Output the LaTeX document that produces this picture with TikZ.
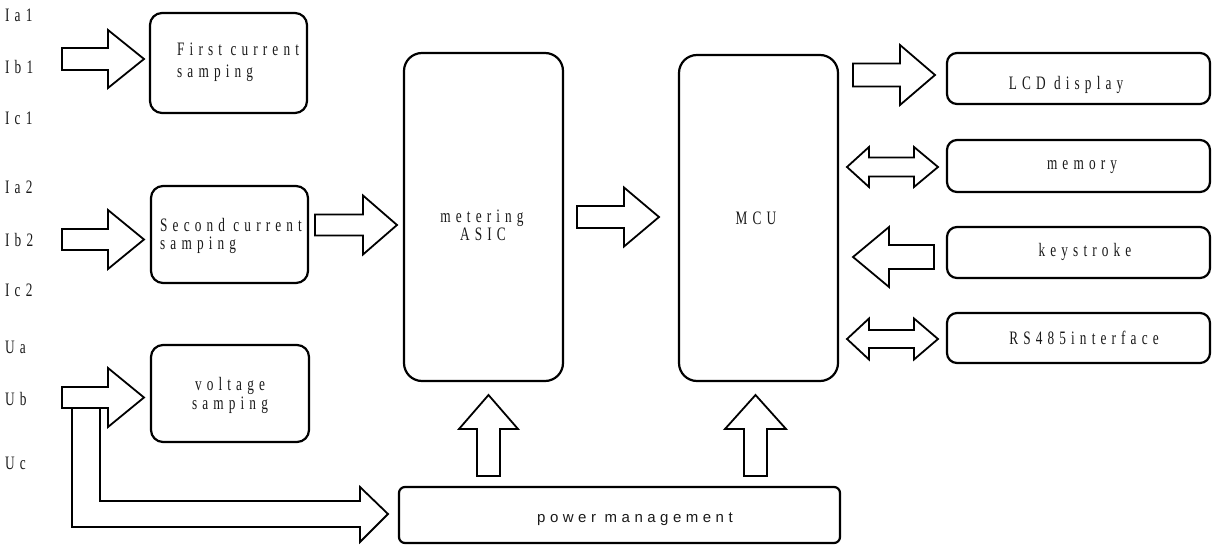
\documentclass[tikz,border=0pt]{standalone}
\usepackage{fontspec}
\newfontfamily\lab[LetterSpace=27,FakeStretch=0.7]{Liberation Serif}
\newfontfamily\psans[LetterSpace=30]{Liberation Sans}
\newcommand\myrarrow[6]{% x0, head base, tip, yc, shaft half, head half
  \draw[barrow] (#1,{#4-#5}) -- (#2,{#4-#5}) -- (#2,{#4-#6}) -- (#3,#4) -- (#2,{#4+#6}) -- (#2,{#4+#5}) -- (#1,{#4+#5}) -- cycle;}
\newcommand\mylarrow[6]{% tip, head base, x end, yc, shaft half, head half
  \draw[barrow] (#1,#4) -- (#2,{#4-#6}) -- (#2,{#4-#5}) -- (#3,{#4-#5}) -- (#3,{#4+#5}) -- (#2,{#4+#5}) -- (#2,{#4+#6}) -- cycle;}
\newcommand\mydarrow[7]{% left tip, left base, right base, right tip, yc, shaft half, head half
  \draw[barrow] (#1,#5) -- (#2,{#5-#7}) -- (#2,{#5-#6}) -- (#3,{#5-#6}) -- (#3,{#5-#7}) -- (#4,#5) -- (#3,{#5+#7}) -- (#3,{#5+#6}) -- (#2,{#5+#6}) -- (#2,{#5+#7}) -- cycle;}
\newcommand\myuarrow[6]{% xc, tip y, head base y, bottom y, shaft half, head half
  \draw[barrow] (#1,#2) -- ({#1+#6},#3) -- ({#1+#5},#3) -- ({#1+#5},#4) -- ({#1-#5},#4) -- ({#1-#5},#3) -- ({#1-#6},#3) -- cycle;}
\begin{document}
\begin{tikzpicture}[x=1pt,y=-1pt,
  box/.style={draw,line width=2.2pt,rounded corners=12pt,inner sep=0pt},
  barrow/.style={draw,line width=1.8pt,line join=miter,fill=white},
  txt/.style={font=\lab\fontsize{19}{20}\selectfont,text=black!90,inner sep=0pt},
  ptxt/.style={font=\psans\fontsize{15}{17}\selectfont,text=black!90,inner sep=0pt}]
\useasboundingbox (0,0) rectangle (1213,545);
% input labels
\node[txt,anchor=west] (ia1) at (5,15) {Ia1};
\node[txt,anchor=west] (ib1) at (5,67) {Ib1};
\node[txt,anchor=west] (ic1) at (5,118) {Ic1};
\node[txt,anchor=west] (ia2) at (5,187) {Ia2};
\node[txt,anchor=west] (ib2) at (5,240) {Ib2};
\node[txt,anchor=west] (ic2) at (5,290) {Ic2};
\node[txt,anchor=west] (ua) at (5,347) {Ua};
\node[txt,anchor=west] (ub) at (5,399) {Ub};
\node[txt,anchor=west] (uc) at (5,463) {Uc};
% boxes
\node[box,minimum width=157pt,minimum height=100pt] (fc) at (228.5,63) {};
\node[box,minimum width=157pt,minimum height=97pt] (sc) at (229.5,234.5) {};
\node[box,minimum width=158pt,minimum height=97pt] (vs) at (230,393.5) {};
\node[box,rounded corners=18pt,minimum width=159pt,minimum height=328pt] (asic) at (483.5,217) {};
\node[box,rounded corners=18pt,minimum width=159pt,minimum height=326pt] (mcu) at (758.5,218) {};
\node[box,rounded corners=6pt,minimum width=441pt,minimum height=56pt] (pm) at (619.5,515) {};
\node[box,rounded corners=10pt,minimum width=263pt,minimum height=51pt] (lcd) at (1078.5,78.5) {};
\node[box,rounded corners=10pt,minimum width=263pt,minimum height=52pt] (mem) at (1078.5,166) {};
\node[box,rounded corners=10pt,minimum width=263pt,minimum height=51pt] (key) at (1078.5,252.5) {};
\node[box,rounded corners=10pt,minimum width=263pt,minimum height=50pt] (rs) at (1078.5,338) {};
% box texts
\node[txt,anchor=base west] (fct1) at (177,56) {First current};
\node[txt,anchor=base west] (fct2) at (177,78) {samping};
\node[txt,anchor=base west] (sct1) at (160,232) {Second current};
\node[txt,anchor=base west] (sct2) at (160,250) {samping};
\node[txt,anchor=base] (vst1) at (230,390) {voltage};
\node[txt,anchor=base] (vst2) at (230,409) {samping};
\node[txt,anchor=base] (at1) at (482,223) {metering};
\node[txt,anchor=base] (at2) at (483,241) {ASIC};
\node[txt] (mcut) at (756,218) {MCU};
\node[txt] (lcdt) at (1066,85) {LCD display};
\node[txt] (memt) at (1082,167) {memory};
\node[txt] (keyt) at (1085,252) {keystroke};
\node[txt] (rst) at (1084,338) {RS485interface};
\node[ptxt] (pmt) at (635,519) {power management};
% block arrows
\myrarrow{62}{108}{144}{59}{11}{29}
\myrarrow{62}{108}{144}{239.5}{10.5}{29.5}
\draw[barrow] (72,408) -- (72,527) -- (360,527) -- (360,542) -- (388,514) -- (360,487) -- (360,501) -- (100,501) -- (100,408);
\myrarrow{62}{108}{144}{397.5}{10.5}{29.5}
\myrarrow{315}{363}{397}{225}{10.5}{29.5}
\myrarrow{577}{624}{659}{217}{11}{29.5}
\myrarrow{853}{900}{935}{75}{11.5}{30}
\mydarrow{847}{869}{914}{938}{167}{9.5}{20}
\mylarrow{853}{889}{934}{257}{12}{30}
\mydarrow{847}{869}{914}{938}{339}{9}{20.5}
\myuarrow{488.5}{395}{429}{476}{11.5}{29.5}
\myuarrow{755.5}{395}{429}{476}{11.5}{30.5}
\end{tikzpicture}
\end{document}
